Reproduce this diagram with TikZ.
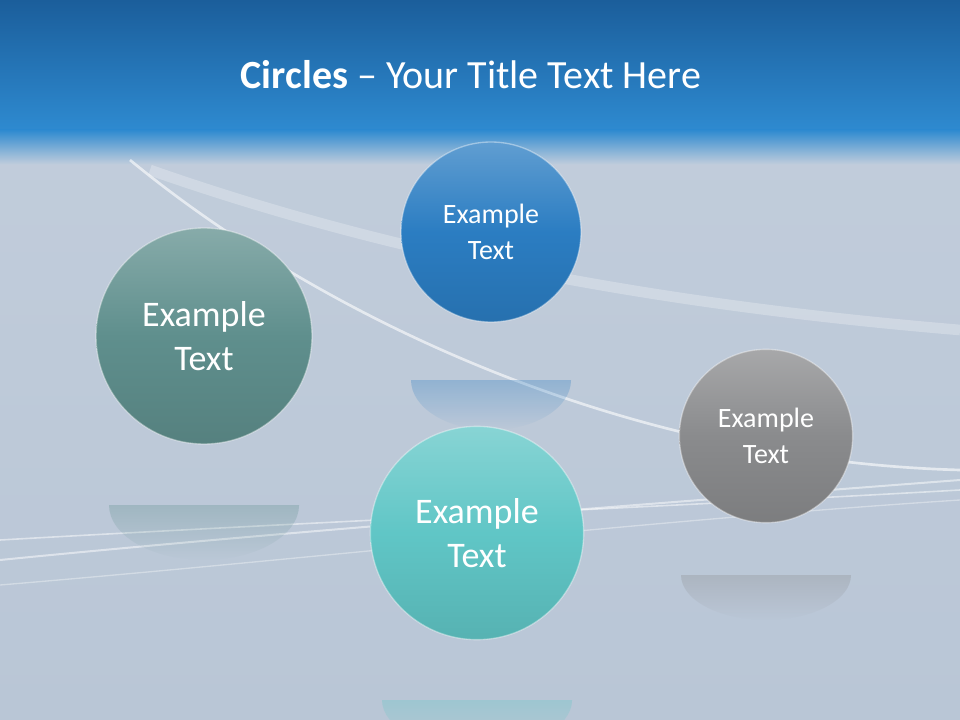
\documentclass[tikz,border=0pt]{standalone}
\usepackage{fontspec}
\setmainfont{Carlito}
\usetikzlibrary{shadings,fadings}
\definecolor{bgA}{HTML}{C3CEDC}
\definecolor{bgB}{HTML}{B9C6D6}
\definecolor{topA}{HTML}{1B5E9B}
\definecolor{topB}{HTML}{2E8AD0}
\definecolor{cBlue}{HTML}{2B7DC2}
\definecolor{cTeal}{HTML}{5F8F8D}
\definecolor{cCyan}{HTML}{60C6C6}
\definecolor{cGray}{HTML}{8A8B8D}
\tikzset{
 ball/.style args={#1}{circle, draw=white, draw opacity=0.4, line width=1pt, text=white, align=center, inner sep=0pt,
   top color=#1!75!white, bottom color=#1!90!black, middle color=#1},
 refl/.style={opacity=0.3, path fading=south}
}
\begin{document}
\begin{tikzpicture}[x=0.75pt,y=-0.75pt]
\useasboundingbox (0,0) rectangle (960,720);
\shade[top color=bgA, bottom color=bgB] (0,0) rectangle (960,720);
\shade[top color=topA, bottom color=topB] (0,0) rectangle (960,130);
\shade[top color=topB, bottom color=bgA] (0,130) rectangle (960,165);
% swooshes
\draw[white, opacity=0.6, line width=2pt] (130,160) .. controls (300,300) and (600,460) .. (960,470);
\draw[white, opacity=0.5, line width=1.5pt] (0,560) .. controls (300,530) and (700,500) .. (960,480);
\draw[white, opacity=0.5, line width=1.2pt] (0,540) .. controls (350,520) and (700,505) .. (960,490);
\draw[white, opacity=0.35, line width=1pt] (0,585) .. controls (300,560) and (650,520) .. (960,500);
\draw[white, opacity=0.25, line width=8pt] (150,170) .. controls (350,240) and (600,300) .. (960,330);
\node[text=white, font=\fontsize{30}{36}\selectfont] (title) at (471,75) {\textbf{Circles} – Your Title Text Here};
% reflections
\fill[cBlue, refl] (411,380) arc (180:0:80 and 50) -- cycle;
\fill[cTeal, refl] (109,505) arc (180:0:95 and 55) -- cycle;
\fill[cCyan, refl] (382,700) arc (180:0:95 and 50) -- cycle;
\fill[cGray, refl] (681,575) arc (180:0:85 and 45) -- cycle;
% circles
\node[ball=cBlue, minimum size=135pt, font=\fontsize{21}{27}\selectfont] (b1) at (491,232) {Example\\Text};
\node[ball=cTeal, minimum size=162pt, font=\fontsize{27}{33}\selectfont] (b2) at (204,336) {Example\\Text};
\node[ball=cCyan, minimum size=160pt, font=\fontsize{27}{33}\selectfont] (b3) at (477,533) {Example\\Text};
\node[ball=cGray, minimum size=130pt, font=\fontsize{21}{27}\selectfont] (b4) at (766,436) {Example\\Text};
\end{tikzpicture}
\end{document}
